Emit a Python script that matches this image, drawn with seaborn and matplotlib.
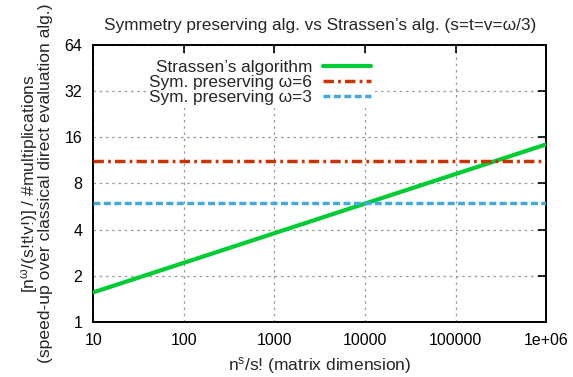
import numpy as np
import pandas as pd
import matplotlib
matplotlib.use("Agg")
import matplotlib.pyplot as plt
import seaborn as sns
from matplotlib.ticker import FixedLocator, FixedFormatter, NullLocator

# values
dims = [10, 100, 1000, 10000, 100000, 1000000]
strassen = [1.56, 2.43, 3.79, 5.91, 9.21, 14.36]
sym_w6 = [11.2] * len(dims)
sym_w3 = [6.0] * len(dims)
series_names = ["Strassen\u2019s algorithm", "Sym. preserving \u03c9=6", "Sym. preserving \u03c9=3"]
x_ticks = [10, 100, 1000, 10000, 100000, 1000000]
x_labels = ["10", "100", "1000", "10000", "100000", "1e+06"]
y_ticks = [1, 2, 4, 8, 16, 32, 64]
y_labels = ["1", "2", "4", "8", "16", "32", "64"]

sns.set_style("white")
plt.rcParams["font.family"] = ["Liberation Sans", "DejaVu Sans"]
plt.rcParams["mathtext.fontset"] = "custom"
plt.rcParams["mathtext.rm"] = "Liberation Sans"
plt.rcParams["mathtext.it"] = "Liberation Sans"

df = pd.DataFrame({
    "x": dims * 3,
    "y": strassen + sym_w6 + sym_w3,
    "series": [series_names[0]] * len(dims) + [series_names[1]] * len(dims) + [series_names[2]] * len(dims),
})

colors = {series_names[0]: "#00cc33", series_names[1]: "#cc3300", series_names[2]: "#44aadd"}

fig = plt.figure(figsize=(5.73, 3.77), dpi=100)
ax = fig.add_axes([0.163, 0.146, 0.79, 0.735])

sns.lineplot(data=df, x="x", y="y", hue="series", palette=colors, ax=ax, legend=False)
styles = [(3.0, "-"), (2.5, (0, (3, 1.2, 0.8, 1.2))), (2.5, (0, (2, 1)))]
for line, (lw, ls) in zip(ax.get_lines(), styles):
    line.set_linewidth(lw)
    line.set_linestyle(ls)
    line.set_zorder(3)

ax.set_xscale("log")
ax.set_yscale("log", base=2)
ax.set_xlim(10, 1e6)
ax.set_ylim(1, 64)
ax.xaxis.set_major_locator(FixedLocator(x_ticks))
ax.xaxis.set_major_formatter(FixedFormatter(x_labels))
ax.xaxis.set_minor_locator(NullLocator())
ax.yaxis.set_major_locator(FixedLocator(y_ticks))
ax.yaxis.set_major_formatter(FixedFormatter(y_labels))
ax.yaxis.set_minor_locator(NullLocator())

ax.tick_params(direction="in", length=6, width=1.2, top=True, right=True,
               labelsize=11.5, pad=8, colors="black")
ax.grid(True, color="#999999", linestyle=(0, (2, 3)), linewidth=0.9, zorder=1)
for s in ax.spines.values():
    s.set_linewidth(1.4)
    s.set_color("black")

ax.set_xlabel("n$^{s}$/s! (matrix dimension)", fontsize=12.5, labelpad=5)
ax.set_ylabel("[n$^{\\omega}$/(s!t!v!)] / #multiplications\n(speed-up over classical direct evaluation alg.)",
              fontsize=12.6, labelpad=8, linespacing=0.85)
ax.set_title("Symmetry preserving alg. vs Strassen\u2019s alg. (s=t=v=\u03c9/3)", fontsize=12.4, pad=11)

handles = ax.get_lines()[:3]
leg = ax.legend(handles, series_names, loc="upper right", bbox_to_anchor=(0.62, 0.955),
                markerfirst=False, frameon=True, fontsize=12.4, handlelength=2.8,
                labelspacing=0.0, borderpad=0.15, handletextpad=0.64, borderaxespad=0)
leg.get_frame().set_edgecolor("none")
leg.get_frame().set_facecolor("white")
leg.get_frame().set_alpha(1)
leg.set_zorder(5)

fig.savefig("out.png", dpi=100)
